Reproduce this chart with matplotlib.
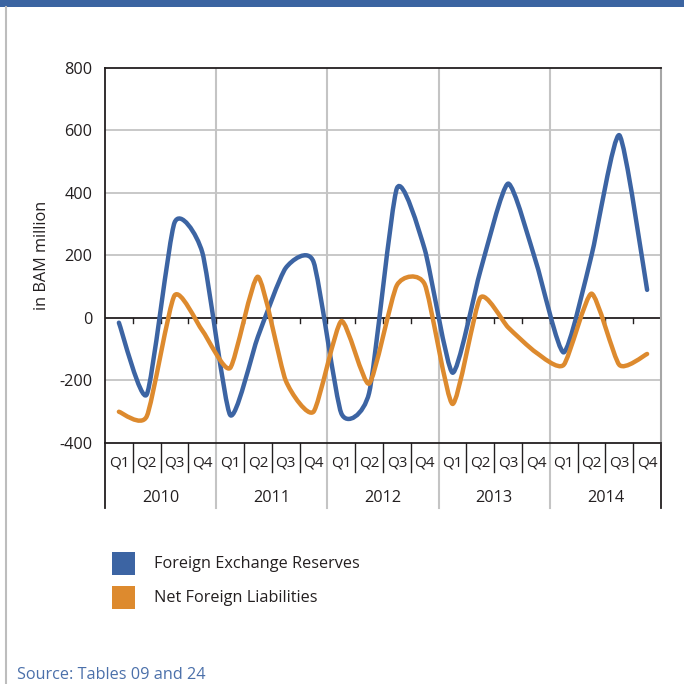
import matplotlib
matplotlib.use("Agg")
import matplotlib.pyplot as plt
from matplotlib.path import Path
from matplotlib.patches import PathPatch, Rectangle
from matplotlib.lines import Line2D
import numpy as np

plt.rcParams['font.family'] = ['Open Sans', 'DejaVu Sans']

# Quarterly flows, in BAM million
years = ["2010", "2011", "2012", "2013", "2014"]
quarters = ["Q1", "Q2", "Q3", "Q4"]
reserves = [-15, -245, 305, 210,
            -310, -60, 160, 180,
            -305, -240, 415, 220,
            -175, 150, 430, 180,
            -110, 200, 585, 90]
liabilities = [-300, -315, 72, -40,
               -160, 132, -200, -300,
               -10, -210, 105, 108,
               -275, 65, -30, -110,
               -150, 78, -150, -115]
y_ticks = [-400, -200, 0, 200, 400, 600, 800]
series_names = ["Foreign Exchange Reserves", "Net Foreign Liabilities"]

BLUE = "#3c64a3"
ORANGE = "#dd8a2e"
DARK = "#231f20"
GRID = "#c4c4c4"
FS = 11.7

W = H = 684
fig = plt.figure(figsize=(6.84, 6.84), dpi=100)


def fx(px):
    return px / W


def fy(py):
    return 1 - py / H


# page decorations
fig.patches.append(Rectangle((0, fy(7)), 1, 7 / H, transform=fig.transFigure,
                             facecolor="#3b64a1", edgecolor="none"))
fig.lines.append(Line2D([fx(6), fx(6)], [0, fy(7)], transform=fig.transFigure,
                        color="#bdbdbd", lw=1.5))

left, right, top, bottom = 105, 661, 68, 443
ax = fig.add_axes([fx(left), fy(bottom), (right - left) / W, (bottom - top) / H])

n = len(reserves)
xs = np.arange(n) + 0.5
ax.set_xlim(0, n)
ax.set_ylim(-400, 800)


def smooth_path(x, y, k=0.1):
    """Cubic Bezier through every point, tangents from neighbouring points."""
    pts = np.column_stack([x, y]).astype(float)
    m = len(pts)
    verts = [pts[0]]
    codes = [Path.MOVETO]
    for i in range(m - 1):
        p0 = pts[max(i - 1, 0)]
        p1 = pts[i]
        p2 = pts[i + 1]
        p3 = pts[min(i + 2, m - 1)]
        verts += [p1 + (p2 - p0) * k, p2 - (p3 - p1) * k, p2]
        codes += [Path.CURVE4] * 3
    return Path(verts, codes)


# grid
for v in y_ticks:
    if v not in (0, -400, 800):
        ax.axhline(v, color=GRID, lw=1.3, zorder=1)
for k in range(4, n, 4):
    ax.axvline(k, color=GRID, lw=1.5, zorder=1)
ax.axhline(0, color=DARK, lw=1.3, zorder=2)
# tick marks on the zero line
for k in range(1, n):
    ax.plot([k, k], [0, -15], color=DARK, lw=1.0, zorder=2)

for vals, col in ((reserves, BLUE), (liabilities, ORANGE)):
    ax.add_patch(PathPatch(smooth_path(xs, vals), facecolor="none", edgecolor=col,
                           lw=3.2, capstyle="round", joinstyle="round", zorder=3))

for side in ("left", "top", "bottom"):
    ax.spines[side].set_color(DARK)
    ax.spines[side].set_linewidth(1.3)
ax.spines["right"].set_color("#a6a6a6")
ax.spines["right"].set_linewidth(1.5)

ax.set_yticks(y_ticks)
ax.set_yticklabels([str(v) for v in y_ticks], fontsize=FS, color=DARK)
ax.tick_params(axis="y", length=0, pad=9)
ax.set_xticks([])

# two-level category axis under the plot
trans = ax.get_xaxis_transform()
ah = bottom - top
q_y = -(463 - bottom) / ah
yr_y = -(498 - bottom) / ah
q_sep = -(472 - bottom) / ah
yr_sep = -(508 - bottom) / ah
for i, x in enumerate(xs):
    ax.text(x, q_y, quarters[i % 4], transform=trans, ha="center", va="center",
            fontsize=11, color=DARK, clip_on=False)
for j, yr in enumerate(years):
    ax.text(4 * j + 2, yr_y, yr, transform=trans, ha="center", va="center",
            fontsize=FS, color=DARK, clip_on=False)
for k in range(0, n + 1):
    if k % 4 == 0:
        col = DARK if k in (0, n) else GRID
        ax.add_line(Line2D([k, k], [0, yr_sep], transform=trans, color=col,
                           lw=1.3 if k in (0, n) else 1.5, clip_on=False))
    else:
        ax.add_line(Line2D([k, k], [0, q_sep], transform=trans, color=DARK,
                           lw=1.0, clip_on=False))

fig.text(fx(42), fy(255), "in BAM million", rotation=90, ha="center", va="center",
         fontsize=FS, color=DARK)

# legend
for (name, col, cy) in ((series_names[0], BLUE, 563.5), (series_names[1], ORANGE, 597.5)):
    fig.patches.append(Rectangle((fx(112), fy(cy + 11.5)), 23 / W, 23 / H,
                                 transform=fig.transFigure, facecolor=col, edgecolor="none"))
    fig.text(fx(154), fy(cy), name, ha="left", va="center", fontsize=FS, color=DARK)

fig.text(fx(17), fy(675), "Source: Tables 09 and 24", ha="left", va="center",
         fontsize=FS, color="#4b70aa")

fig.savefig("out.png", dpi=100)
